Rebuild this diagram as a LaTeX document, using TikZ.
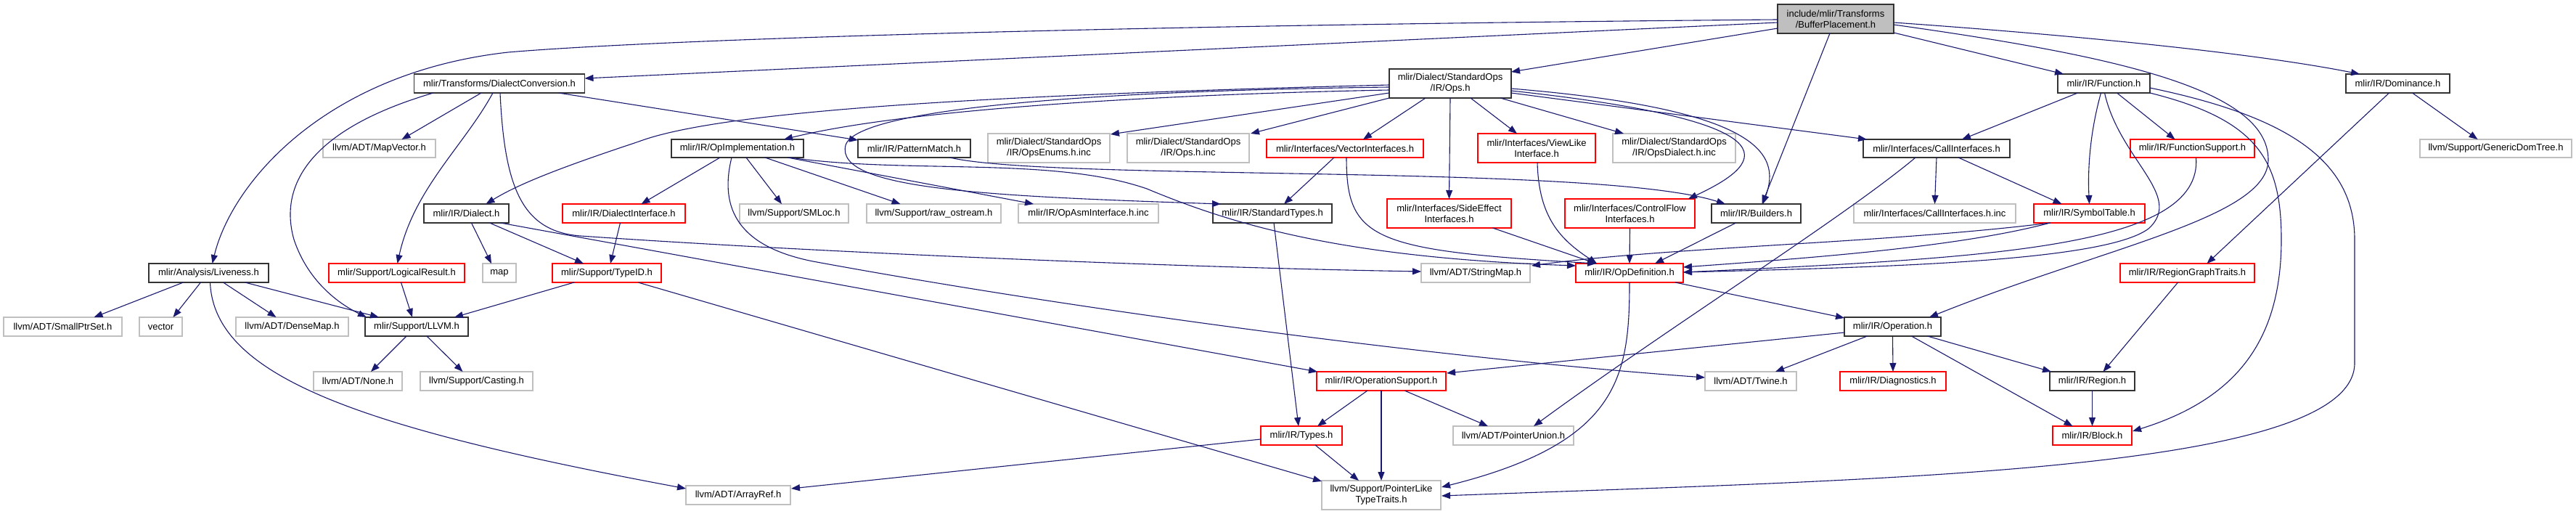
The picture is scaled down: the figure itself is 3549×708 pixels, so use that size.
\documentclass[tikz,border=0pt]{standalone}
\usepackage{fontspec}
\setmainfont{Liberation Sans}
\usetikzlibrary{calc,arrows.meta}
\definecolor{edgec}{HTML}{191970}
\definecolor{gry}{HTML}{BFBFBF}
\definecolor{dkb}{HTML}{333333}
\newcommand{\nodefont}{\fontsize{13}{15}\selectfont}
\begin{document}
\begin{tikzpicture}[x=1pt,y=-1pt,
  nbox/.style={draw, line width=1.1pt, inner sep=0pt, outer sep=0pt, minimum height=26pt, font=\nodefont, align=center, fill=white},
  nblack/.style={nbox, draw=dkb, line width=1.5pt},
  nred/.style={nbox, draw=red},
  ngrey/.style={nbox, draw=gry},
  nroot/.style={nbox, draw=dkb, line width=1.5pt, fill=gry},
  tall/.style={minimum height=40pt},
  e/.style={draw=edgec, line width=1.1pt, -{Triangle[length=12pt,width=9pt]}}]
\fill[white] (0,0) rectangle (3549,708);
\useasboundingbox (0,0) rectangle (3549,708);
% row 0
\node[nroot, tall, minimum width=160] (root) at (2529,26) {include/mlir/Transforms\\/BufferPlacement.h};
% row 1
\node[nblack, minimum width=235] (dc) at (688,115) {mlir/Transforms/DialectConversion.h};
\node[nblack, tall, minimum width=168] (ops) at (1998,115) {mlir/Dialect/StandardOps\\/IR/Ops.h};
\node[nblack, minimum width=127] (func) at (2898.5,115) {mlir/IR/Function.h};
\node[nblack, minimum width=143] (dom) at (3303.5,115) {mlir/IR/Dominance.h};
% row 2
\node[ngrey, minimum width=155, minimum height=25] (mapvec) at (522.5,204.5) {llvm/ADT/MapVector.h};
\node[nblack, minimum width=182, minimum height=25] (opimpl) at (1016,204.5) {mlir/IR/OpImplementation.h};
\node[nblack, minimum width=155, minimum height=25] (patt) at (1259.5,204.5) {mlir/IR/PatternMatch.h};
\node[ngrey, tall, minimum width=168] (enums) at (1445,204) {mlir/Dialect/StandardOps\\/IR/OpsEnums.h.inc};
\node[ngrey, tall, minimum width=168] (opsinc) at (1637,204) {mlir/Dialect/StandardOps\\/IR/Ops.h.inc};
\node[nred, minimum width=216, minimum height=25] (vec) at (1853,204.5) {mlir/Interfaces/VectorInterfaces.h};
\node[nred, tall, minimum width=162] (view) at (2117,204) {mlir/Interfaces/ViewLike\\Interface.h};
\node[ngrey, tall, minimum width=169] (dialinc) at (2306.5,204) {mlir/Dialect/StandardOps\\/IR/OpsDialect.h.inc};
\node[nblack, minimum width=202, minimum height=25] (call) at (2668,204.5) {mlir/Interfaces/CallInterfaces.h};
\node[nred, minimum width=171, minimum height=25] (funcsup) at (3020.5,204.5) {mlir/IR/FunctionSupport.h};
\node[ngrey, minimum width=209, minimum height=25] (gdt) at (3438.5,204.5) {llvm/Support/GenericDomTree.h};
% row 3
\node[nblack, minimum width=117] (dialect) at (642.5,294) {mlir/IR/Dialect.h};
\node[nred, minimum width=169] (dint) at (859.5,294) {mlir/IR/DialectInterface.h};
\node[ngrey, minimum width=150] (smloc) at (1094,294) {llvm/Support/SMLoc.h};
\node[ngrey, minimum width=185] (rawos) at (1286.5,294) {llvm/Support/raw\_ostream.h};
\node[ngrey, minimum width=193] (asminc) at (1499.5,294) {mlir/IR/OpAsmInterface.h.inc};
\node[nblack, minimum width=164] (stdtypes) at (1753,294) {mlir/IR/StandardTypes.h};
\node[nred, tall, minimum width=171] (side) at (1996.5,294) {mlir/Interfaces/SideEffect\\Interfaces.h};
\node[nred, tall, minimum width=179] (cf) at (2245.5,294) {mlir/Interfaces/ControlFlow\\Interfaces.h};
\node[nblack, minimum width=123] (build) at (2419.5,294) {mlir/IR/Builders.h};
\node[ngrey, minimum width=223] (callinc) at (2665.5,294) {mlir/Interfaces/CallInterfaces.h.inc};
\node[nred, minimum width=153] (symtab) at (2878.5,294) {mlir/IR/SymbolTable.h};
% row 4
\node[nblack, minimum width=165] (live) at (287.5,376) {mlir/Analysis/Liveness.h};
\node[nred, minimum width=187] (logres) at (546.5,376) {mlir/Support/LogicalResult.h};
\node[ngrey, minimum width=46] (mapn) at (688,376) {map};
\node[nred, minimum width=150] (typeid) at (836,376) {mlir/Support/TypeID.h};
\node[ngrey, minimum width=150] (strmap) at (2033,376) {llvm/ADT/StringMap.h};
\node[nred, minimum width=148] (opdef) at (2245,376) {mlir/IR/OpDefinition.h};
\node[nred, minimum width=185] (rgt) at (3013.5,376) {mlir/IR/RegionGraphTraits.h};
% row 5
\node[ngrey, minimum width=163] (sps) at (86.5,450) {llvm/ADT/SmallPtrSet.h};
\node[ngrey, minimum width=59] (vectorn) at (221.5,450) {vector};
\node[ngrey, minimum width=155] (dmap) at (402.5,450) {llvm/ADT/DenseMap.h};
\node[nblack, minimum width=142] (llvmh) at (574,450) {mlir/Support/LLVM.h};
\node[nblack, minimum width=133] (op) at (2607.5,450) {mlir/IR/Operation.h};
% row 6
\node[ngrey, minimum width=122] (none) at (493,525) {llvm/ADT/None.h};
\node[ngrey, minimum width=155] (cast) at (656.5,525) {llvm/Support/Casting.h};
\node[nred, minimum width=178] (opsup) at (1903,525) {mlir/IR/OperationSupport.h};
\node[ngrey, minimum width=126] (twine) at (2412,525) {llvm/ADT/Twine.h};
\node[nred, minimum width=146] (diag) at (2608,525) {mlir/IR/Diagnostics.h};
\node[nblack, minimum width=117] (region) at (2882.5,525) {mlir/IR/Region.h};
% row 7
\node[nred, minimum width=112] (types) at (1793,600) {mlir/IR/Types.h};
\node[ngrey, minimum width=166] (punion) at (2085,600) {llvm/ADT/PointerUnion.h};
\node[nred, minimum width=109] (block) at (2882.5,600) {mlir/IR/Block.h};
% row 8
\node[ngrey, minimum width=144] (aref) at (1017,682) {llvm/ADT/ArrayRef.h};
\node[ngrey, tall, minimum width=164] (plt) at (1903,682) {llvm/Support/PointerLike\\TypeTraits.h};

% ---- edges: root
\draw[e] ($(root.west)+(0,1)$) .. controls (1500,35) and (900,55) .. (700,72) .. controls (450,100) and (320,250) .. ($(live.north)+(5,0)$);
\draw[e] ($(root.west)+(0,5)$) -- ($(dc.east)+(0,-7)$);
\draw[e] ($(root.west)+(0,13)$) -- ($(ops.east)+(0,-16)$);
\draw[e] ($(root.south)+(-8,0)$) -- ($(build.north)+(8,0)$);
\draw[e] ($(root.east)+(0,19)$) -- ($(func.north west)+(8,0)$);
\draw[e] ($(root.east)+(0,5)$) .. controls (2850,48) and (3100,72) .. ($(dom.north west)+(19,0)$);
\draw[e] ($(root.east)+(0,8)$) .. controls (2900,75) and (3125,120) .. (3125,220) .. controls (3125,300) and (2900,340) .. ($(op.north east)+(-16,0)$);
% DialectConversion
\draw[e] ($(dc.south)+(-91,0)$) .. controls (420,180) and (385,260) .. (405,330) .. controls (425,390) and (470,420) .. ($(llvmh.north west)+(2,0)$);
\draw[e] ($(dc.south)+(-25,0)$) -- ($(mapvec.north)+(31,0)$);
\draw[e] ($(dc.south)+(-9,0)$) .. controls (640,200) and (570,260) .. ($(logres.north)+(1,0)$);
\draw[e] ($(dc.south)+(1,0)$) .. controls (695,260) and (720,319) .. (800,325) .. controls (1100,346) and (1600,368) .. ($(strmap.west)+(0,-2)$);
\draw[e] ($(dc.south east)+(-36,0)$) -- ($(patt.north west)+(0,1)$);
% Ops.h
\draw[e] ($(ops.west)+(0,2)$) .. controls (1400,130) and (1000,150) .. (880,195) .. controls (790,225) and (720,250) .. ($(dialect.north)+(27,0)$);
\draw[e] ($(ops.west)+(0,9)$) .. controls (1600,130) and (1250,150) .. ($(opimpl.north)+(64,0)$);
\draw[e] ($(ops.west)+(0,5)$) .. controls (1500,125) and (1180,150) .. (1165,200) .. controls (1150,260) and (1350,270) .. ($(stdtypes.north west)+(11,0)$);
\draw[e] ($(ops.west)+(0,13)$) -- ($(enums.north east)+(1,1)$);
\draw[e] (ops.south west) -- ($(opsinc.north east)+(2,0)$);
\draw[e] ($(ops.south)+(-34,0)$) -- ($(vec.north)+(25,0)$);
\draw[e] (ops.south) -- (side.north);
\draw[e] ($(ops.south)+(28,0)$) -- ($(view.north)+(-27,0)$);
\draw[e] ($(ops.south)+(69,0)$) -- ($(dialinc.north west)+(15,0)$);
\draw[e] ($(ops.east)+(0,10)$) .. controls (2500,170) and (2420,230) .. ($(cf.north east)+(-9,0)$);
\draw[e] ($(ops.east)+(0,7)$) .. controls (2420,150) and (2455,210) .. ($(build.north)+(9,0)$);
\draw[e] ($(ops.east)+(0,13)$) -- ($(call.north west)+(5,0)$);
% OpImplementation
\draw[e] ($(opimpl.south)+(-24,0)$) -- ($(dint.north)+(24,0)$);
\draw[e] ($(opimpl.south)+(-8,0)$) .. controls (990,290) and (1020,340) .. (1120,360) .. controls (1500,430) and (2000,495) .. ($(twine.west)+(0,-5)$);
\draw[e] ($(opimpl.south)+(12,0)$) -- ($(smloc.north)+(-17,0)$);
\draw[e] ($(opimpl.south)+(38,0)$) -- ($(rawos.north)+(-46,0)$);
\draw[e] ($(opimpl.south)+(69,0)$) -- ($(asminc.north west)+(21,0)$);
\draw[e] ($(opimpl.south east)+(-19,0)$) .. controls (1250,240) and (1450,215) .. (1580,260) .. controls (1700,310) and (1850,355) .. ($(opdef.west)+(0,-10)$);
% PatternMatch
\draw[e] ($(patt.south)+(49,0)$) .. controls (1450,250) and (2200,225) .. ($(build.north west)+(19,0)$);
% Dialect
\draw[e] ($(dialect.south)+(7,0)$) -- ($(mapn.north)+(-11,0)$);
\draw[e] ($(dialect.south)+(32,0)$) -- ($(typeid.north)+(-32,0)$);
\draw[e] ($(dialect.south)+(47,0)$) -- ($(opsup.north west)+(1,0)$);
\draw[e] ($(dint.south)+(-5,0)$) -- ($(typeid.north)+(5,0)$);
% StandardTypes, interfaces
\draw[e] ($(stdtypes.south)+(2,0)$) -- ($(types.north)+(-4,0)$);
\draw[e] ($(vec.south)+(-15,0)$) -- ($(stdtypes.north)+(16,0)$);
\draw[e] ($(vec.south)+(2,0)$) .. controls (1855,330) and (1890,345) .. ($(opdef.north west)+(28,0)$);
\draw[e] ($(view.south)+(1,0)$) .. controls (2120,300) and (2150,330) .. ($(opdef.north west)+(29,0)$);
\draw[e] ($(side.south)+(60,0)$) -- ($(opdef.north west)+(28,0)$);
\draw[e] (cf.south) -- (opdef.north);
\draw[e] ($(build.south)+(-28,0)$) -- ($(opdef.north)+(35,0)$);
% CallInterfaces
\draw[e] (call.south) -- (callinc.north);
\draw[e] ($(call.south)+(30,0)$) -- ($(symtab.north)+(-38,0)$);
\draw[e] ($(call.south)+(-29,0)$) .. controls (2540,300) and (2300,450) .. ($(punion.north)+(28,0)$);
% Function
\draw[e] ($(func.south)+(-36,0)$) -- ($(call.north)+(35,0)$);
\draw[e] ($(func.south)+(-4,0)$) .. controls (2880,180) and (2876,230) .. (symtab.north);
\draw[e] ($(func.south)+(1,0)$) .. controls (2920,220) and (3010,270) .. (2960,315) .. controls (2900,360) and (2600,368) .. ($(opdef.east)+(0,-1)$);
\draw[e] ($(func.south)+(18,0)$) -- ($(funcsup.north)+(-24,0)$);
\draw[e] (func.south east) .. controls (3110,165) and (3143,220) .. (3143,330) .. controls (3143,470) and (3080,550) .. ($(block.east)+(1,-6)$);
\draw[e] ($(func.east)+(0,6)$) .. controls (3150,160) and (3244,220) .. (3244,330) -- (3244,500) .. controls (3244,650) and (2600,660) .. ($(plt.east)+(1,1)$);
\draw[e] ($(funcsup.south)+(5,0)$) .. controls (3035,340) and (2750,355) .. ($(opdef.east)+(0,-1)$);
% SymbolTable
\draw[e] ($(symtab.south)+(-54,0)$) .. controls (2700,340) and (2500,355) .. ($(opdef.east)+(0,-8)$);
\draw[e] ($(symtab.south)+(-54,0)$) .. controls (2600,335) and (2300,340) .. ($(strmap.north east)+(2,3)$);
% OpDefinition
\draw[e] ($(opdef.south east)+(-11,0)$) -- ($(op.north west)+(0,1)$);
\draw[e] (opdef.south) .. controls (2245,520) and (2230,610) .. ($(plt.east)+(1,-11)$);
% Operation
\draw[e] ($(op.west)+(0,8)$) -- ($(opsup.north east)+(1,2)$);
\draw[e] ($(op.south)+(-35,0)$) -- ($(twine.north)+(34,0)$);
\draw[e] (op.south) -- (diag.north);
\draw[e] ($(op.south)+(48,0)$) -- ($(region.north west)+(2,0)$);
\draw[e] ($(op.south)+(26,0)$) -- ($(block.north)+(-27,0)$);
\draw[e] (region.south) -- (block.north);
\draw[e] ($(rgt.south)+(-13,0)$) -- ($(region.north)+(15,0)$);
% Dominance
\draw[e] ($(dom.south)+(-12,0)$) -- ($(rgt.north)+(27,0)$);
\draw[e] ($(dom.south)+(20,0)$) -- ($(gdt.north)+(-25,0)$);
% OperationSupport, Types
\draw[e] ($(opsup.south)+(-19,0)$) -- ($(types.north)+(22,0)$);
\draw[e] (opsup.south) -- (plt.north);
\draw[e] ($(opsup.south)+(32,0)$) -- ($(punion.north)+(-35,0)$);
\draw[e] ($(types.south)+(19,0)$) -- ($(plt.north)+(-31,0)$);
\draw[e] ($(types.west)+(0,5)$) -- ($(aref.east)+(1,-9)$);
% TypeID, LogicalResult
\draw[e] ($(typeid.south)+(-45,0)$) -- ($(llvmh.north)+(52,0)$);
\draw[e] ($(typeid.south)+(43,0)$) -- ($(plt.north west)+(0,1)$);
\draw[e] ($(logres.south)+(6,0)$) -- ($(llvmh.north)+(-6,0)$);
% Liveness
\draw[e] ($(live.south)+(-35,0)$) -- ($(sps.north)+(43,0)$);
\draw[e] ($(live.south)+(-11,0)$) -- ($(vectorn.north)+(17,0)$);
\draw[e] ($(live.south)+(20,0)$) -- ($(dmap.north)+(-22,0)$);
\draw[e] ($(live.south)+(50,0)$) -- ($(llvmh.north west)+(19,0)$);
\draw[e] ($(live.south)+(2,0)$) .. controls (295,520) and (500,590) .. ($(aref.west)+(0,-9)$);
% LLVM.h
\draw[e] ($(llvmh.south)+(-14,0)$) -- ($(none.north)+(18,0)$);
\draw[e] ($(llvmh.south)+(14,0)$) -- ($(cast.north)+(-19,0)$);
\end{tikzpicture}
\end{document}
